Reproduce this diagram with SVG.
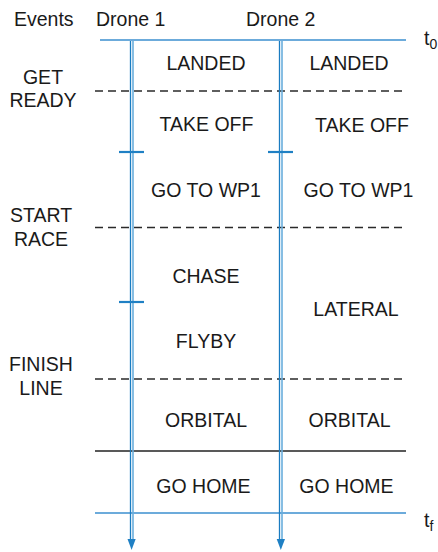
<svg xmlns="http://www.w3.org/2000/svg" width="438" height="552" viewBox="0 0 438 552">
<defs>
<style>
text{font-family:"Liberation Sans",Arial,sans-serif;font-size:19.5px;fill:#1a1a1a}
.c{text-anchor:middle}
.dash{stroke:#2a2a2a;stroke-width:1.4;stroke-dasharray:8 5;fill:none}
.solid{stroke:#222;stroke-width:1.4;fill:none}
.time{stroke:#3b8fcf;stroke-width:1.5;fill:none}
.vd{stroke:#1a7cc1;stroke-width:1.3;fill:none}
.vl{stroke:#6aaedc;stroke-width:1.6;fill:none}
.tick{stroke:#1f80c4;stroke-width:2.2;fill:none}
.sub{font-size:14px}
</style>
</defs>
<g id="headers">
<text x="14" y="26">Events</text>
<text x="96" y="26">Drone 1</text>
<text x="246" y="26">Drone 2</text>
</g>
<g id="events">
<text class="c" x="43" y="84">GET</text>
<text class="c" x="43" y="107">READY</text>
<text class="c" x="41" y="222">START</text>
<text class="c" x="41" y="246">RACE</text>
<text class="c" x="41" y="371">FINISH</text>
<text class="c" x="41" y="395">LINE</text>
</g>
<g id="time-labels">
<text x="424" y="45">t<tspan class="sub" dy="4">0</tspan></text>
<text x="424" y="527">t<tspan class="sub" dy="4">f</tspan></text>
</g>
<g id="connectors">
<line class="time" x1="100" y1="40" x2="406" y2="40"/>
<line class="time" x1="95" y1="513" x2="406" y2="513"/>
<line class="dash" x1="95" y1="91" x2="406" y2="91"/>
<line class="dash" x1="95" y1="227.5" x2="406" y2="227.5"/>
<line class="dash" x1="95" y1="379" x2="406" y2="379"/>
<line class="solid" x1="95" y1="451" x2="406" y2="451"/>
<line class="vd" x1="130.5" y1="41" x2="130.5" y2="542"/>
<line class="vl" x1="133" y1="41" x2="133" y2="542"/>
<line class="vd" x1="279.5" y1="41" x2="279.5" y2="542"/>
<line class="vl" x1="282" y1="41" x2="282" y2="542"/>
<polygon points="127.5,539 135.7,539 131.6,550" fill="#1f80c4"/>
<polygon points="276.7,539 285,539 280.8,550" fill="#1f80c4"/>
<line class="tick" x1="119" y1="152" x2="144" y2="152"/>
<line class="tick" x1="268" y1="152" x2="293" y2="152"/>
<line class="tick" x1="119" y1="302" x2="144" y2="302"/>
</g>
<g id="drone1-states">
<text class="c" x="206" y="70">LANDED</text>
<text class="c" x="206.5" y="131">TAKE OFF</text>
<text class="c" x="206" y="197">GO TO WP1</text>
<text class="c" x="206" y="283">CHASE</text>
<text class="c" x="206" y="348">FLYBY</text>
<text class="c" x="206" y="427">ORBITAL</text>
<text class="c" x="203.5" y="493">GO HOME</text>
</g>
<g id="drone2-states">
<text class="c" x="349" y="70">LANDED</text>
<text class="c" x="362" y="132">TAKE OFF</text>
<text class="c" x="358.5" y="197">GO TO WP1</text>
<text class="c" x="356" y="316">LATERAL</text>
<text class="c" x="349.5" y="427">ORBITAL</text>
<text class="c" x="346.5" y="493">GO HOME</text>
</g>
</svg>
